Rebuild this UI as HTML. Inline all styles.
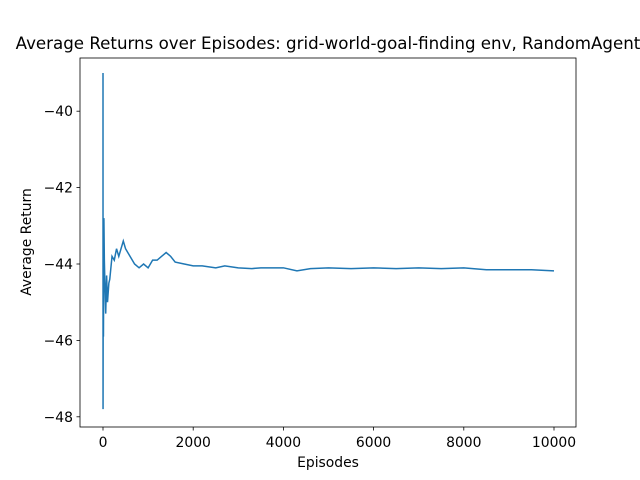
<!DOCTYPE html>
<html><head><meta charset="utf-8"><style>
body{margin:0;background:#fff}
svg{display:block;font-family:"DejaVu Sans","Liberation Sans",sans-serif}
</style></head><body>
<svg id="chart" width="640" height="480">
<rect x="0" y="0" width="640" height="480" fill="#fff"/>
<text x="328" y="49" font-size="16.67" text-anchor="middle">Average Returns over Episodes: grid-world-goal-finding env, RandomAgent</text>
<g id="plot"></g>
<rect x="80" y="58" width="496" height="369" fill="none" stroke="#000" stroke-width="0.8"/>
<g id="xt"></g><g id="yt"></g>
<text x="328" y="467" font-size="13.9" text-anchor="middle">Episodes</text>
<text x="31" y="242" font-size="13.9" text-anchor="middle" transform="rotate(-90 31 242)">Average Return</text>
</svg>
<script>
const episodes=[0,1,3,5,10,20,30,40,60,80,100,130,150,200,250,300,350,400,450,500,600,700,800,900,1000,1100,1200,1300,1400,1500,1600,1800,2000,2200,2500,2700,3000,3300,3500,4000,4300,4600,5000,5500,6000,6500,7000,7500,8000,8500,9000,9500,10000];
const returns=[-39.0,-47.8,-46.0,-44.9,-45.9,-42.8,-43.9,-44.4,-45.3,-44.3,-45.0,-44.5,-44.4,-43.8,-43.9,-43.6,-43.8,-43.6,-43.4,-43.6,-43.8,-44.0,-44.1,-44.0,-44.1,-43.9,-43.9,-43.8,-43.7,-43.8,-43.95,-44.0,-44.05,-44.05,-44.1,-44.05,-44.1,-44.12,-44.1,-44.1,-44.18,-44.12,-44.1,-44.12,-44.1,-44.12,-44.1,-44.12,-44.1,-44.15,-44.15,-44.15,-44.18];
const xTicks=[0,2000,4000,6000,8000,10000];
const yTicks=[-40,-42,-44,-46,-48];
const X=v=>103+v*0.0451;
const Y=v=>264+(-44-v)*38.2;
const NS="http://www.w3.org/2000/svg";
const plot=document.getElementById('plot');
const line=document.createElementNS(NS,'polyline');
line.setAttribute('points',episodes.map((e,i)=>X(e).toFixed(2)+','+Y(returns[i]).toFixed(2)).join(' '));
line.setAttribute('fill','none');line.setAttribute('stroke','#1f77b4');line.setAttribute('stroke-width','1.5');


plot.appendChild(line);
const xt=document.getElementById('xt');
xTicks.forEach(t=>{
 const g=document.createElementNS(NS,'g');
 
 
 g.innerHTML=`<line x1="${X(t)}" x2="${X(t)}" y1="427" y2="430.5" stroke="#000" stroke-width="0.8"/><text x="${X(t)}" y="447" font-size="13.9" text-anchor="middle">${t}</text>`;
 xt.appendChild(g);
});
const yt=document.getElementById('yt');
yTicks.forEach(t=>{
 const g=document.createElementNS(NS,'g');
 
 
 g.innerHTML=`<line x1="76.5" x2="80" y1="${Y(t)}" y2="${Y(t)}" stroke="#000" stroke-width="0.8"/><text x="73" y="${Y(t)+5}" font-size="13.9" text-anchor="end">\u2212${-t}</text>`;
 yt.appendChild(g);
});
</script>
</body></html>
